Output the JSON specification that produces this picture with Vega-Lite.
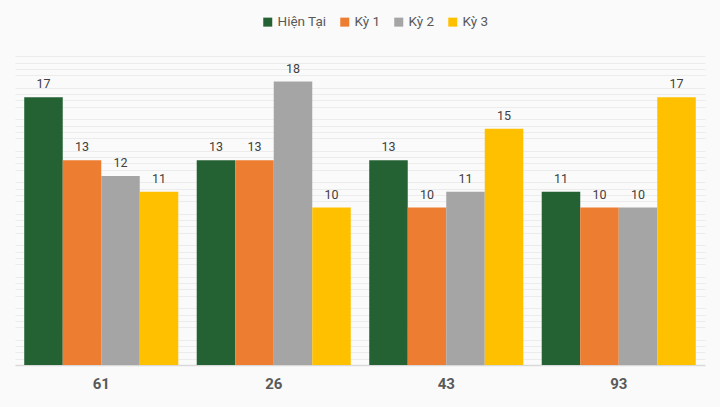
{
  "$schema": "https://vega.github.io/schema/vega-lite/v6.json",
  "width": 690,
  "height": 315,
  "autosize": {"type": "none"},
  "padding": {"left": 15, "top": 50, "right": 15, "bottom": 42},
  "background": "#fafafa",
  "config": {"view": {"stroke": null}, "font": "Roboto"},
  "data": {"values": [
    {"g": "61", "s": "Hiện Tại", "v": 17},
    {"g": "61", "s": "Kỳ 1", "v": 13},
    {"g": "61", "s": "Kỳ 2", "v": 12},
    {"g": "61", "s": "Kỳ 3", "v": 11},
    {"g": "26", "s": "Hiện Tại", "v": 13},
    {"g": "26", "s": "Kỳ 1", "v": 13},
    {"g": "26", "s": "Kỳ 2", "v": 18},
    {"g": "26", "s": "Kỳ 3", "v": 10},
    {"g": "43", "s": "Hiện Tại", "v": 13},
    {"g": "43", "s": "Kỳ 1", "v": 10},
    {"g": "43", "s": "Kỳ 2", "v": 11},
    {"g": "43", "s": "Kỳ 3", "v": 15},
    {"g": "93", "s": "Hiện Tại", "v": 11},
    {"g": "93", "s": "Kỳ 1", "v": 10},
    {"g": "93", "s": "Kỳ 2", "v": 10},
    {"g": "93", "s": "Kỳ 3", "v": 17}
  ]},
  "encoding": {
    "x": {
      "field": "g", "type": "nominal", "sort": null,
      "scale": {"paddingInner": 0.107, "paddingOuter": 0.0535},
      "axis": {"title": null, "labelAngle": 0, "ticks": false, "domainColor": "#d9d9d9", "domainWidth": 1.5,
               "labelFontWeight": "bold", "labelFontSize": 15, "labelColor": "#595959", "labelPadding": 11}
    },
    "xOffset": {"field": "s", "type": "nominal", "sort": ["Hiện Tại", "Kỳ 1", "Kỳ 2", "Kỳ 3"]},
    "y": {"field": "v", "type": "quantitative", "scale": {"domain": [0, 20], "nice": false}}
  },
  "layer": [
    {
      "mark": {"type": "bar"},
      "encoding": {
        "y": {"field": "v", "type": "quantitative", "scale": {"domain": [0, 20], "nice": false},
              "axis": {"title": null, "labels": false, "ticks": false, "domain": false, "gridColor": "#ececec", "gridWidth": 1,
                       "values": [0.4,0.8,1.2,1.6,2.4,2.8,3.2,3.6,4.4,4.8,5.2,5.6,6.4,6.8,7.2,7.6,8.4,8.8,9.2,9.6,10.4,10.8,11.2,11.6,12.4,12.8,13.2,13.6,14.4,14.8,15.2,15.6,16.4,16.8,17.2,17.6,18.4,18.8,19.2,19.6]}},
        "color": {
          "field": "s", "type": "nominal", "sort": ["Hiện Tại", "Kỳ 1", "Kỳ 2", "Kỳ 3"],
          "scale": {"domain": ["Hiện Tại", "Kỳ 1", "Kỳ 2", "Kỳ 3"], "range": ["#246133", "#ED7D31", "#A5A5A5", "#FFC000"]},
          "legend": {"title": null, "orient": "none", "direction": "horizontal", "legendX": 246, "legendY": -35,
                     "symbolType": "square", "symbolSize": 81, "symbolStrokeWidth": 0, "labelFontSize": 13.5,
                     "labelColor": "#595959", "labelOffset": 3, "columnPadding": 11}
        }
      }
    },
    {
      "mark": {"type": "text", "baseline": "bottom", "dy": -6, "fontSize": 12.5, "color": "#404040"},
      "encoding": {
        "y": {"field": "v", "type": "quantitative", "scale": {"domain": [0, 20], "nice": false},
              "axis": {"title": null, "labels": false, "ticks": false, "domain": false, "gridColor": "#d9d9d9", "gridWidth": 1,
                       "values": [0, 2, 4, 6, 8, 10, 12, 14, 16, 18, 20]}},
        "text": {"field": "v", "type": "quantitative"}
      }
    }
  ],
  "resolve": {"axis": {"y": "independent"}}
}
